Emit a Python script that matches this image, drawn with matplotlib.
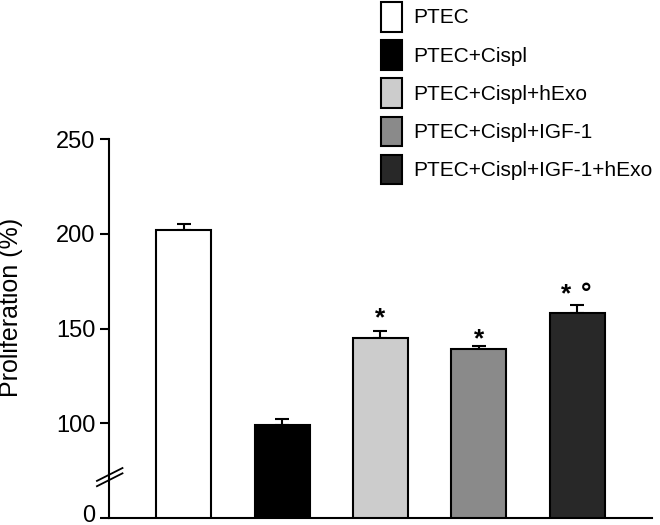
import matplotlib
matplotlib.use("Agg")
import matplotlib.pyplot as plt
from matplotlib.transforms import ScaledTranslation

plt.rcParams['font.family'] = ['Liberation Sans', 'DejaVu Sans']

grupos = ["PTEC", "PTEC+Cispl", "PTEC+Cispl+hExo", "PTEC+Cispl+IGF-1", "PTEC+Cispl+IGF-1+hExo"]
proliferacion = [202.3, 99.3, 145.3, 139.1, 158.1]
error = [3.1, 3.0, 3.3, 1.6, 4.2]
colores = ["#ffffff", "#000000", "#cccccc", "#8a8a8a", "#282828"]

# (barra, texto, desplazamiento x, desplazamiento y) en puntos
marcas = [(2, "*", 0, 4.5), (3, "*", 0, 0), (4, "*", -8, 3), (4, "\u00b0", 6, 3)]

ticks_y = [50, 100, 150, 200, 250]
etiquetas_y = ["0", "100", "150", "200", "250"]

fig = plt.figure(figsize=(6.6, 5.25), dpi=100)
ax = fig.add_axes([0.165, 0.0133, 0.823, 0.7214])

x = list(range(len(grupos)))
barras = ax.bar(x, proliferacion, width=0.56, color=colores, edgecolor="black", linewidth=1.5, zorder=2)
ax.errorbar(x, proliferacion, yerr=[[0] * len(error), error], fmt="none",
            ecolor="black", elinewidth=1.5, capsize=5, capthick=1.5, zorder=1)

for i, texto, dx, dy in marcas:
    ax.annotate(texto, (i, proliferacion[i] + error[i]), xytext=(dx, dy),
                textcoords="offset points", ha="center", va="baseline",
                fontsize=19, fontweight="bold")

ax.set_xlim(-0.76, 4.76)
ax.set_ylim(50, 250)
ax.set_yticks(ticks_y)
ax.set_yticklabels(etiquetas_y)
ax.tick_params(axis="y", labelsize=17, width=1.5, length=6.5, direction="out", pad=3)
ax.set_xticks([])
ax.spines["top"].set_visible(False)
ax.spines["right"].set_visible(False)
ax.spines["left"].set_linewidth(1.5)
ax.spines["bottom"].set_linewidth(1.5)
ax.set_ylabel("Proliferation (%)", fontsize=18)
ax.yaxis.set_label_coords(-0.158, 0.557)

# el "0" queda un poco por encima de su marca
lab0 = ax.get_yticklabels()[0]
lab0.set_transform(lab0.get_transform() + ScaledTranslation(0, 3.5 / 72, fig.dpi_scale_trans))

# marca de corte en el eje
for d in [0, -0.014]:
    ax.plot([-0.022, 0.025], [0.098 + d, 0.132 + d], transform=ax.transAxes,
            color="black", linewidth=1.3, clip_on=False)

fig.legend(barras, grupos, loc="upper left", bbox_to_anchor=(0.564, 1.012), frameon=False,
           fontsize=15, handlelength=1.05, handleheight=1.8, labelspacing=0.42, handletextpad=0.5,
           borderaxespad=0)

fig.savefig("out.png", dpi=100)
